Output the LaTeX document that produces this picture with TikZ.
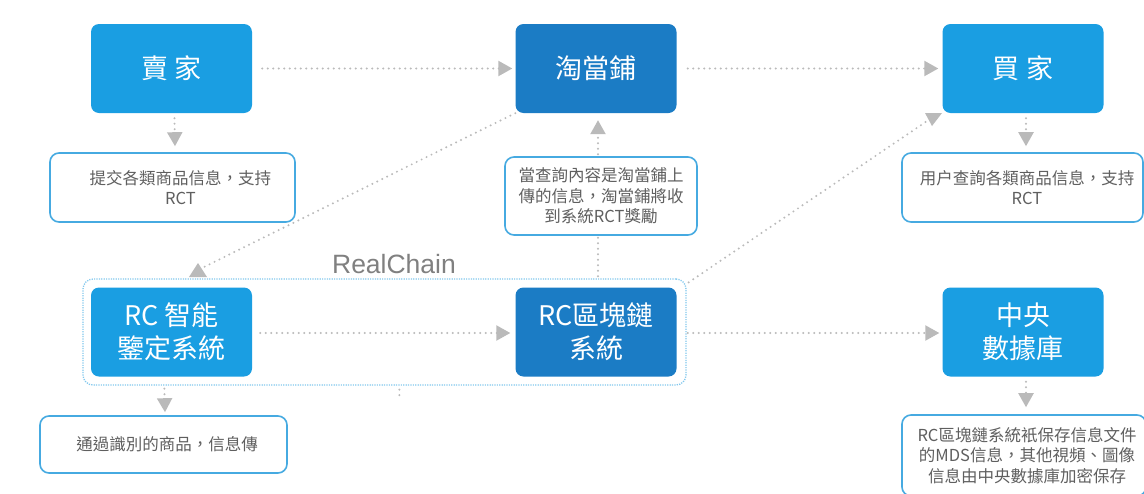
\documentclass[tikz,border=0pt]{standalone}
\usepackage{fontspec}
\setmainfont{Noto Sans CJK TC}
\newfontfamily\latinfont{Liberation Sans}
\usetikzlibrary{arrows.meta,calc}
\definecolor{boxlight}{RGB}{26,158,226}
\definecolor{boxdark}{RGB}{27,124,197}
\definecolor{notebord}{RGB}{70,170,225}
\definecolor{groupbord}{RGB}{130,200,238}
\definecolor{arrowgray}{RGB}{186,186,186}
\definecolor{notetext}{RGB}{95,95,95}
\definecolor{labelgray}{RGB}{128,128,128}
\newcommand{\shiftline}[1]{\hspace*{#1}}
\begin{document}
\begin{tikzpicture}[x=1pt,y=-1pt,
  mainbox/.style={rectangle, rounded corners=8pt, minimum width=161pt, minimum height=89pt, inner sep=0pt, text=white, font=\fontsize{27}{33}\selectfont, align=center},
  lightbox/.style={mainbox, fill=boxlight},
  darkbox/.style={mainbox, fill=boxdark},
  notebox/.style={rectangle, draw=notebord, line width=1.6pt, rounded corners=9pt, fill=white, text=notetext, font=\fontsize{16.5}{20.5}\selectfont, align=center, inner sep=0pt},
  groupbox/.style={rectangle, draw=groupbord, line width=1.3pt, dash pattern=on 1.2pt off 1.2pt, rounded corners=10pt, minimum width=603pt, minimum height=106pt, inner sep=0pt},
  conn/.style={draw=arrowgray, line width=2.2pt, line cap=round, dash pattern=on 0pt off 5.5pt},
  arr/.style={conn, -{Triangle[length=14pt,width=15pt]}, arrowgray},
]
\useasboundingbox (0,0) rectangle (1144,493);
\fill[white] (0,0) rectangle (1144,493);

% group
\node[groupbox] (group) at (384.5,332) {};
\node[text=labelgray, font=\latinfont\fontsize{26.5}{30}\selectfont, inner sep=0pt] (rclabel) at (394,264) {RealChain};

% main boxes
\node[lightbox] (seller) at (171.5,68.5) {賣 家};
\node[darkbox]  (tao)    at (596,68.5)   {淘當鋪};
\node[lightbox] (buyer)  at (1023,68.5)  {買 家};
\node[lightbox] (rcai)   at (171.5,332)  {RC 智能\\鑒定系統};
\node[darkbox]  (chain)  at (596,332)    {RC區塊鏈\\系統};
\node[lightbox] (db)     at (1023,332)   {中央\\數據庫};

% notes
\node[notebox, minimum width=245pt, minimum height=69pt] (snote) at (172.5,187.5) {\shiftline{16pt}提交各類商品信息，支持\\\shiftline{16pt}RCT};
\node[notebox, minimum width=192pt, minimum height=78pt] (mnote) at (601,196) {當查詢內容是淘當鋪上\\傳的信息，淘當鋪將收\\到系統RCT獎勵};
\node[notebox, minimum width=241pt, minimum height=69pt] (bnote) at (1022.5,187.5) {\shiftline{9pt}用户查詢各類商品信息，支持\\\shiftline{9pt}RCT};
\node[notebox, minimum width=247pt, minimum height=57pt] (rnote) at (163.5,444.5) {\shiftline{7pt}通過識別的商品，信息傳};
\node[notebox, minimum width=244pt, minimum height=81pt] (dbnote) at (1024,455.5) {\shiftline{6pt}RC區塊鏈系統衹保存信息文件\\\shiftline{6pt}的MDS信息，其他視頻、圖像\\\shiftline{6pt}信息由中央數據庫加密保存};

% horizontal connectors
\draw[arr] ($(seller.east)+(10,0)$) -- ($(tao.west)+(-3,0)$);
\draw[arr] ($(tao.east)+(11,0)$) -- ($(buyer.west)+(-4,0)$);
\draw[arr] ($(rcai.east)+(8,1)$) -- ($(chain.west)+(-5,1)$);
\draw[arr] ($(group.east)+(1,1)$) -- ($(db.west)+(-3,1)$);

% vertical connectors
\draw[arr] ($(seller.south)+(3,5)$) -- ($(snote.north)+(2.5,-6)$);
\draw[arr] ($(buyer.south)+(3,5)$) -- ($(bnote.north)+(3.5,-6)$);
\draw[arr] ($(db.south)+(3,5)$) -- ($(dbnote.north)+(2,-7)$);
\draw[arr] ($(group.south west)+(82,3)$) -- ($(rnote.north)+(1.5,-3)$);
\coordinate (stub) at ($(group.south west)+(317,4)$);
\draw[conn] (stub) -- ++(0,10);
\draw[arr] ($(mnote.north)+(-3,-2)$) -- ($(tao.south)+(2,7)$);
\coordinate (m1) at ($(mnote.south)+(-3,2)$);
\draw[conn] (m1) -- (m1 |- group.north);

% diagonal connectors
\coordinate (d1) at (198,270);
\draw[conn] (tao.south west) -- (d1);
\fill[arrowgray] ($(d1)+(-9,7)$) -- ($(d1)+(9,7)$) -- ($(d1)+(0,-7)$) -- cycle;
\coordinate (d2) at (933,117);
\draw[conn] ($(group.north east)+(2,4)$) -- (d2);
\fill[arrowgray] ($(d2)+(-8,-4)$) -- ($(d2)+(9,-4)$) -- ($(d2)+(-1,9)$) -- cycle;
\end{tikzpicture}
\end{document}
